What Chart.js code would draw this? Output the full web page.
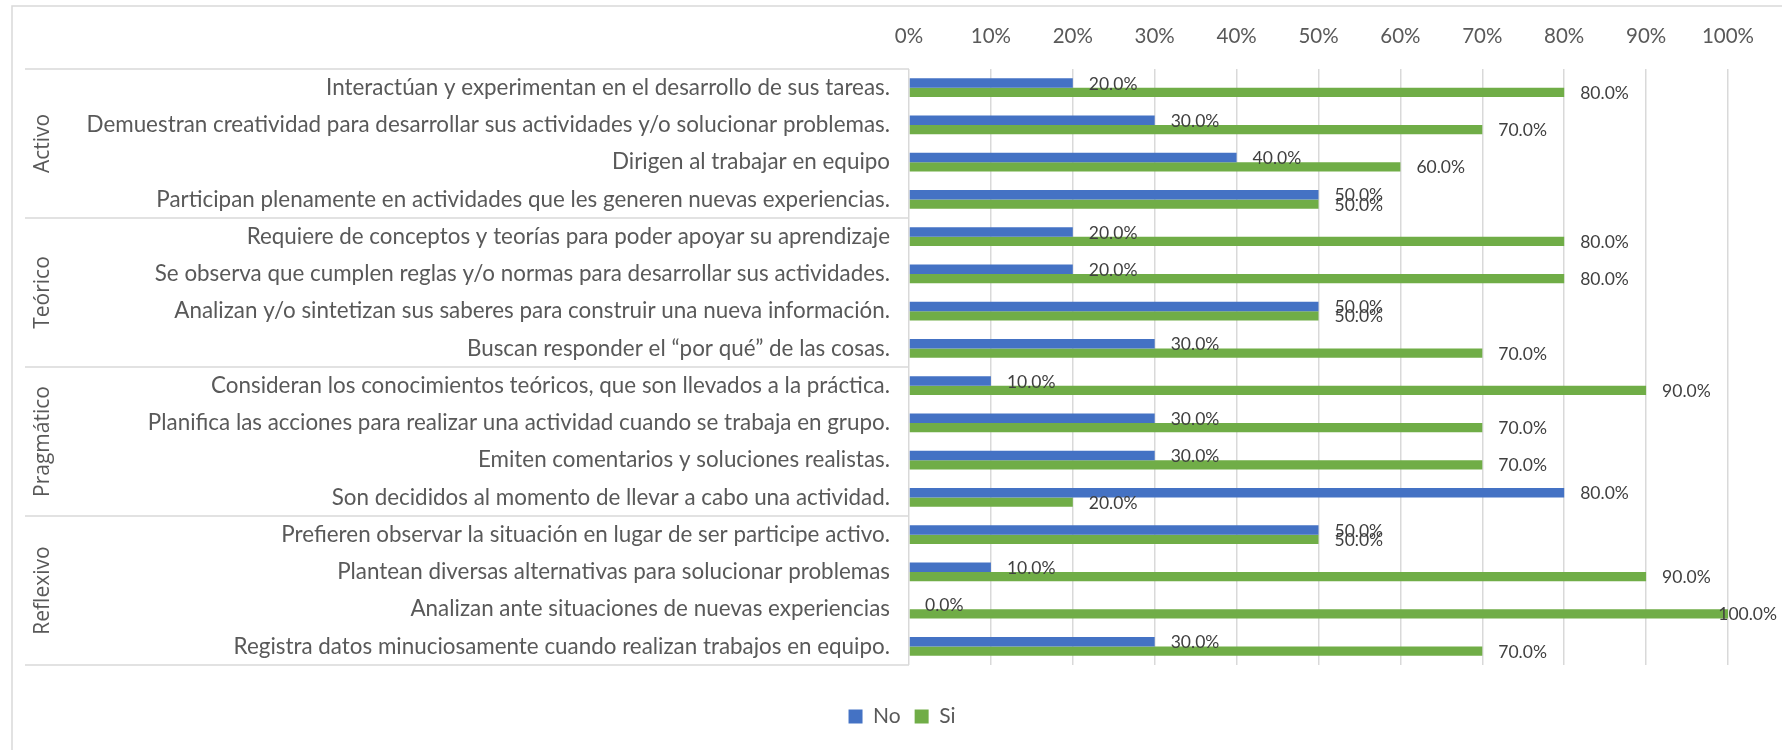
<!DOCTYPE html>
<html><head><meta charset="utf-8">
<script src="https://cdn.jsdelivr.net/npm/chart.js@4.4.1/dist/chart.umd.min.js"></script>
<style>html,body{margin:0;padding:0;background:#fff;overflow:hidden;} #c{display:block;}</style>
</head><body>
<canvas id="c" width="1782" height="750" style="width:1782px;height:750px"></canvas>
<script>
const categories = [
  'Interactúan y experimentan en el desarrollo de sus tareas.',
  'Demuestran creatividad para desarrollar sus actividades y/o solucionar problemas.',
  'Dirigen al trabajar en equipo',
  'Participan plenamente en actividades que les generen nuevas experiencias.',
  'Requiere de conceptos y teorías para poder apoyar su aprendizaje',
  'Se observa que cumplen reglas y/o normas para desarrollar sus actividades.',
  'Analizan y/o sintetizan sus saberes para construir una nueva información.',
  'Buscan responder el “por qué” de las cosas.',
  'Consideran los conocimientos teóricos, que son llevados a la práctica.',
  'Planifica las acciones para realizar una actividad cuando se trabaja en grupo.',
  'Emiten comentarios y soluciones realistas.',
  'Son decididos al momento de llevar a cabo una actividad.',
  'Prefieren observar la situación en lugar de ser participe activo.',
  'Plantean diversas alternativas para solucionar problemas',
  'Analizan ante situaciones de nuevas experiencias',
  'Registra datos minuciosamente cuando realizan trabajos en equipo.'
];
const groupNames = ['Activo', 'Teórico', 'Pragmático', 'Reflexivo'];
const groupSizes = [4, 4, 4, 4];
const noValues = [20, 30, 40, 50, 20, 20, 50, 30, 10, 30, 30, 80, 50, 10, 0, 30];
const siValues = [80, 70, 60, 50, 80, 80, 50, 70, 90, 70, 70, 20, 50, 90, 100, 70];
const seriesNames = ['No', 'Si'];
const tickValues = [0, 10, 20, 30, 40, 50, 60, 70, 80, 90, 100];

const GRAY = '#d9d9d9';
const TEXT = '#595959';

// choose category font size so the longest label spans like the reference
const mctx = document.createElement('canvas').getContext('2d');
mctx.font = '100px Lato';
const longest = categories.reduce((a, b) => mctx.measureText(b).width > mctx.measureText(a).width ? b : a);
const catSize = Math.round(804 / mctx.measureText(longest).width * 100 * 10) / 10;

const decorPlugin = {
  id: 'decor',
  beforeDraw(chart) {
    const ctx = chart.ctx;
    const y = chart.scales.y;
    const area = chart.chartArea;
    ctx.save();
    ctx.strokeStyle = GRAY;
    ctx.lineWidth = 1.5;
    // outer border
    ctx.beginPath();
    ctx.moveTo(12, 750); ctx.lineTo(12, 6); ctx.lineTo(1782, 6);
    ctx.stroke();
    // group separators
    const bounds = [area.top];
    let idx = 0;
    groupSizes.forEach(n => {
      idx += n;
      if (idx < categories.length) {
        bounds.push((y.getPixelForValue(idx - 1) + y.getPixelForValue(idx)) / 2);
      }
    });
    bounds.push(area.bottom);
    ctx.beginPath();
    bounds.forEach(b => { ctx.moveTo(25, b); ctx.lineTo(area.left, b); });
    ctx.stroke();
    // group labels
    ctx.fillStyle = TEXT;
    ctx.font = '21px "Open Sans"';
    ctx.textAlign = 'center';
    ctx.textBaseline = 'middle';
    let start = 0;
    groupNames.forEach((g, i) => {
      const end = start + groupSizes[i] - 1;
      const cy = (y.getPixelForValue(start) + y.getPixelForValue(end)) / 2;
      ctx.save();
      ctx.translate(43, cy);
      ctx.rotate(-Math.PI / 2);
      ctx.fillText(g, 0, 0);
      ctx.restore();
      start = end + 1;
    });
    ctx.restore();
  },
  afterDatasetsDraw(chart) {
    const ctx = chart.ctx;
    ctx.save();
    ctx.font = '17.5px Lato';
    ctx.fillStyle = '#404040';
    ctx.textAlign = 'left';
    ctx.textBaseline = 'middle';
    chart.data.datasets.forEach((ds, di) => {
      const meta = chart.getDatasetMeta(di);
      meta.data.forEach((bar, i) => {
        const txt = ds.data[i].toFixed(1) + '%';
        const w = ctx.measureText(txt).width;
        const x = Math.min(bar.x + 16, 1777 - w);
        ctx.fillText(txt, x, bar.y + 1);
      });
    });
    ctx.restore();
  }
};

new Chart(document.getElementById('c'), {
  type: 'bar',
  data: {
    labels: categories,
    datasets: [
      { label: seriesNames[0], data: noValues, backgroundColor: '#4472C4', categoryPercentage: 0.5, barPercentage: 1.0 },
      { label: seriesNames[1], data: siValues, backgroundColor: '#70AD47', categoryPercentage: 0.5, barPercentage: 1.0 }
    ]
  },
  options: {
    indexAxis: 'y',
    responsive: false,
    animation: false,
    devicePixelRatio: 1,
    layout: { padding: { left: 76, right: 54, top: 0, bottom: 13 } },
    scales: {
      x: {
        type: 'linear', position: 'top', min: 0, max: 100,
        afterBuildTicks(s) { s.ticks = tickValues.map(v => ({ value: v })); },
        ticks: { callback: v => v + '%', font: { family: 'Lato', size: 20.5 }, color: TEXT, padding: 20 },
        grid: { color: GRAY, lineWidth: 1.5, drawTicks: false },
        border: { display: false },
        afterFit(s) { s.height = 69; }
      },
      x2: {
        type: 'linear', position: 'bottom', display: true,
        ticks: { display: false }, grid: { display: false }, border: { display: false },
        afterFit(s) { s.height = 27; }
      },
      y: {
        type: 'category',
        ticks: { font: { family: 'Lato', size: catSize }, color: TEXT, padding: 11, autoSkip: false },
        grid: { display: false },
        border: { display: false },
        afterFit(s) { s.width = 909 - 76; }
      }
    },
    plugins: {
      legend: {
        position: 'bottom',
        labels: { boxWidth: 14, boxHeight: 14, padding: 14, color: TEXT, font: { family: 'Lato', size: 21 } }
      },
      tooltip: { enabled: false }
    }
  },
  plugins: [decorPlugin]
});
</script>
</body></html>
